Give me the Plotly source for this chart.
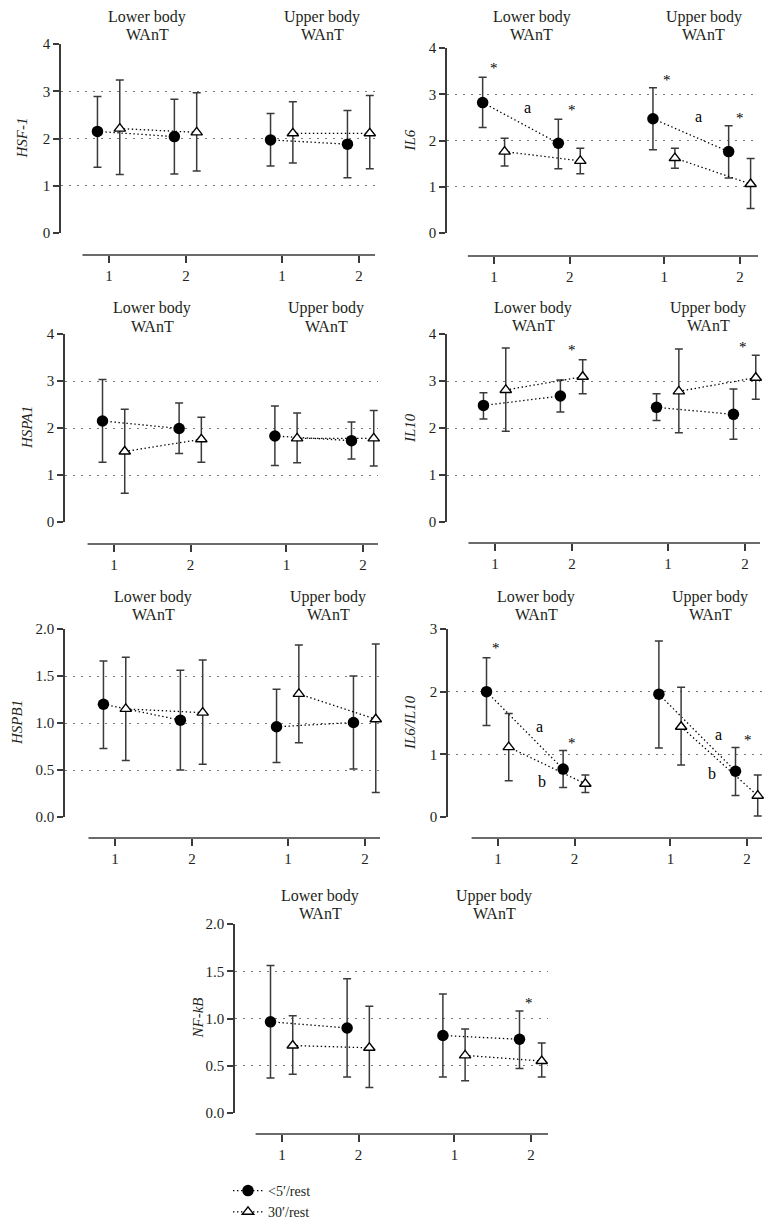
import plotly.graph_objects as go

# page body has an 8px margin: figure is sized to fit the window exactly
OFF = 8
W, H = 773 - 2 * OFF, 1229 - 2 * OFF
FONT = "Liberation Serif"
INK = "#231f20"
AX = "#3a3a3a"

# ---------------- data ----------------
series_names = ["&lt;5′/rest", "30′/rest"]
group_titles = ["Lower body", "Upper body"]
x_ticks = [1, 2, 3.25, 4.25]
x_ticktext = ["1", "2", "1", "2"]

# order of values: lower body 1, lower body 2, upper body 1, upper body 2
hsf1_rest5 = [2.15, 2.04, 1.97, 1.88]
hsf1_rest5_hi = [2.89, 2.83, 2.53, 2.59]
hsf1_rest5_lo = [1.39, 1.25, 1.42, 1.17]
hsf1_rest30 = [2.21, 2.13, 2.11, 2.11]
hsf1_rest30_hi = [3.24, 2.97, 2.78, 2.91]
hsf1_rest30_lo = [1.24, 1.31, 1.48, 1.36]

il6_rest5 = [2.82, 1.94, 2.47, 1.76]
il6_rest5_hi = [3.37, 2.46, 3.14, 2.32]
il6_rest5_lo = [2.28, 1.39, 1.80, 1.19]
il6_rest30 = [1.76, 1.56, 1.62, 1.06]
il6_rest30_hi = [2.05, 1.83, 1.83, 1.61]
il6_rest30_lo = [1.45, 1.28, 1.40, 0.53]

hspa1_rest5 = [2.15, 1.99, 1.83, 1.73]
hspa1_rest5_hi = [3.03, 2.53, 2.47, 2.13]
hspa1_rest5_lo = [1.27, 1.46, 1.20, 1.34]
hspa1_rest30 = [1.50, 1.76, 1.78, 1.78]
hspa1_rest30_hi = [2.40, 2.23, 2.32, 2.37]
hspa1_rest30_lo = [0.61, 1.27, 1.26, 1.19]

il10_rest5 = [2.48, 2.68, 2.44, 2.29]
il10_rest5_hi = [2.75, 3.02, 2.73, 2.83]
il10_rest5_lo = [2.19, 2.34, 2.16, 1.76]
il10_rest30 = [2.81, 3.09, 2.78, 3.07]
il10_rest30_hi = [3.70, 3.45, 3.68, 3.55]
il10_rest30_lo = [1.93, 2.73, 1.90, 2.61]

hspb1_rest5 = [1.20, 1.03, 0.96, 1.005]
hspb1_rest5_hi = [1.66, 1.56, 1.36, 1.50]
hspb1_rest5_lo = [0.73, 0.50, 0.58, 0.51]
hspb1_rest30 = [1.15, 1.11, 1.31, 1.04]
hspb1_rest30_hi = [1.70, 1.67, 1.83, 1.84]
hspb1_rest30_lo = [0.60, 0.56, 0.79, 0.26]

ratio_rest5 = [2.00, 0.765, 1.96, 0.73]
ratio_rest5_hi = [2.54, 1.06, 2.81, 1.11]
ratio_rest5_lo = [1.46, 0.47, 1.10, 0.345]
ratio_rest30 = [1.115, 0.53, 1.44, 0.34]
ratio_rest30_hi = [1.65, 0.67, 2.07, 0.67]
ratio_rest30_lo = [0.58, 0.39, 0.83, 0.016]

nfkb_rest5 = [0.965, 0.90, 0.82, 0.78]
nfkb_rest5_hi = [1.56, 1.42, 1.26, 1.08]
nfkb_rest5_lo = [0.37, 0.38, 0.38, 0.47]
nfkb_rest30 = [0.714, 0.69, 0.61, 0.55]
nfkb_rest30_hi = [1.03, 1.13, 0.89, 0.74]
nfkb_rest30_lo = [0.41, 0.27, 0.34, 0.38]

panel_titles = ["HSF-1", "IL6", "HSPA1", "IL10", "HSPB1", "IL6/IL10", "NF-kB"]
y_tick_vals = [
    [0, 1, 2, 3, 4], [0, 1, 2, 3, 4], [0, 1, 2, 3, 4], [0, 1, 2, 3, 4],
    [0, 0.5, 1.0, 1.5, 2.0], [0, 1, 2, 3], [0, 0.5, 1.0, 1.5, 2.0],
]
y_tick_text = [
    ["0", "1", "2", "3", "4"], ["0", "1", "2", "3", "4"],
    ["0", "1", "2", "3", "4"], ["0", "1", "2", "3", "4"],
    ["0.0", "0.5", "1.0", "1.5", "2.0"], ["0", "1", "2", "3"],
    ["0.0", "0.5", "1.0", "1.5", "2.0"],
]
panel_data = [
    [(hsf1_rest5, hsf1_rest5_hi, hsf1_rest5_lo), (hsf1_rest30, hsf1_rest30_hi, hsf1_rest30_lo)],
    [(il6_rest5, il6_rest5_hi, il6_rest5_lo), (il6_rest30, il6_rest30_hi, il6_rest30_lo)],
    [(hspa1_rest5, hspa1_rest5_hi, hspa1_rest5_lo), (hspa1_rest30, hspa1_rest30_hi, hspa1_rest30_lo)],
    [(il10_rest5, il10_rest5_hi, il10_rest5_lo), (il10_rest30, il10_rest30_hi, il10_rest30_lo)],
    [(hspb1_rest5, hspb1_rest5_hi, hspb1_rest5_lo), (hspb1_rest30, hspb1_rest30_hi, hspb1_rest30_lo)],
    [(ratio_rest5, ratio_rest5_hi, ratio_rest5_lo), (ratio_rest30, ratio_rest30_hi, ratio_rest30_lo)],
    [(nfkb_rest5, nfkb_rest5_hi, nfkb_rest5_lo), (nfkb_rest30, nfkb_rest30_hi, nfkb_rest30_lo)],
]

# significance marks: (panel index, x, y, text)
marks = [
    (1, 1.0, 3.56, "*"), (1, 1.44, 2.72, "a"), (1, 2.03, 2.66, "*"),
    (1, 3.29, 3.31, "*"), (1, 3.70, 2.51, "a"), (1, 4.25, 2.49, "*"),
    (3, 2.0, 3.66, "*"), (3, 4.22, 3.72, "*"),
    (5, 0.97, 2.70, "*"), (5, 1.54, 1.44, "a"), (5, 1.57, 0.57, "b"), (5, 1.97, 1.18, "*"),
    (5, 3.88, 1.32, "a"), (5, 3.79, 0.69, "b"), (5, 4.26, 1.23, "*"),
    (6, 4.23, 1.16, "*"),
]

# ---------------- layout geometry (window pixels) ----------------
# L: y-axis line, R: right end, T: top gridline, Z: y=0, B: x-axis line, t1/t4: first/last x tick
geom = [
    dict(L=61, R=375, T=44, Z=233, B=255, t1=109, t4=359, tx=22, gt=(17, 34)),
    dict(L=447, R=758, T=48, Z=233, B=256, t1=494, t4=740, tx=410, gt=(17, 34)),
    dict(L=65, R=378, T=334, Z=522, B=544, t1=114, t4=363, tx=27, gt=(308, 326)),
    dict(L=447, R=760, T=334, Z=522, B=543, t1=495, t4=745, tx=410, gt=(308, 325)),
    dict(L=65, R=380, T=629, Z=817, B=838, t1=115, t4=365, tx=17, gt=(597, 615)),
    dict(L=448, R=762, T=629, Z=817, B=838, t1=498, t4=747, tx=410, gt=(597, 615)),
    dict(L=235, R=548, T=924, Z=1113, B=1134, t1=282, t4=531, tx=197, gt=(896, 913)),
]


def px(p):
    return (p - OFF) / W


def py(p):
    return 1 - (p - OFF) / H


offsets = [-0.15, 0.14]
fig = go.Figure()
layout = dict(
    width=W, height=H, margin=dict(l=0, r=0, t=0, b=0, autoexpand=False),
    paper_bgcolor="white", plot_bgcolor="white",
    font=dict(family=FONT, size=15, color=INK),
    showlegend=True,
    legend=dict(x=px(228), y=py(1175), xanchor="left", yanchor="top",
                font=dict(size=14, family=FONT, color=INK), bgcolor="rgba(0,0,0,0)",
                tracegroupgap=0, itemwidth=30),
)
shapes, annotations = [], []

for i, g in enumerate(geom):
    n = i + 1
    xs = "" if n == 1 else str(n)
    ymax = y_tick_vals[i][-1]
    sp = (g["t4"] - g["t1"]) / (x_ticks[-1] - x_ticks[0])
    xr = [1 - (g["t1"] - g["L"]) / sp, 1 + (g["R"] - g["t1"]) / sp]

    layout["xaxis" + xs] = dict(
        domain=[px(g["L"]), px(g["R"])], range=xr, anchor="free", position=py(g["B"]),
        tickvals=x_ticks, ticktext=x_ticktext, ticks="outside", ticklen=7, tickwidth=1.5,
        tickcolor=AX, showline=False, showgrid=False, zeroline=False,
        tickfont=dict(size=15, family=FONT, color=INK), fixedrange=True,
    )
    layout["yaxis" + xs] = dict(
        domain=[py(g["Z"]), py(g["T"])], range=[0, ymax], anchor="x" + xs,
        tickvals=y_tick_vals[i], ticktext=y_tick_text[i], ticks="outside", ticklen=6,
        tickwidth=1.5, tickcolor=AX, showline=True, linecolor=AX, linewidth=1.5,
        showgrid=True, gridcolor="#7a7a7a", gridwidth=1.3, griddash="2px,6px", zeroline=False,
        tickfont=dict(size=15, family=FONT, color=INK), fixedrange=True,
    )
    # x axis line (offset below the plot)
    x_start = 0.655
    shapes.append(dict(
        type="line", xref="x" + xs + " domain", yref="paper",
        x0=(x_start - xr[0]) / (xr[1] - xr[0]), x1=1, y0=py(g["B"]), y1=py(g["B"]),
        line=dict(color=AX, width=1.5),
    ))
    # y title
    annotations.append(dict(
        text="<i>" + panel_titles[i] + "</i>", xref="paper", yref="y" + xs + " domain",
        x=px(g["tx"]), y=0.5, textangle=-90, showarrow=False,
        font=dict(size=15, family=FONT, color=INK), xanchor="center", yanchor="middle",
    ))
    # group titles
    for gx, title in zip([1.5, 3.77], group_titles):
        for line_txt, yp in zip([title, "WAnT"], g["gt"]):
            annotations.append(dict(
                text=line_txt, xref="x" + xs, yref="paper", x=gx, y=py(yp),
                showarrow=False, xanchor="center", yanchor="middle",
                font=dict(size=16, family=FONT, color=INK),
            ))

    for s, (mean, hi, lo) in enumerate(panel_data[i]):
        for grp in range(2):
            idx = [2 * grp, 2 * grp + 1]
            xv = [x_ticks[k] + offsets[s] for k in idx]
            m = [mean[k] for k in idx]
            ep = [hi[k] - mean[k] for k in idx]
            em = [mean[k] - lo[k] for k in idx]
            if s == 0:
                marker = dict(symbol="circle", size=11.5, color="black",
                              line=dict(color="black", width=0))
            else:
                marker = dict(symbol="triangle-up", size=10, color="white",
                              line=dict(color="black", width=1.4))
            fig.add_trace(go.Scatter(
                x=xv, y=m, mode="lines+markers", xaxis="x" + xs, yaxis="y" + xs,
                line=dict(color="black", width=1.3, dash="1.4px,2.6px"), marker=marker,
                error_y=dict(type="data", symmetric=False, array=ep, arrayminus=em,
                             color=AX, thickness=1.5, width=4),
                name=series_names[s], legendgroup=series_names[s],
                showlegend=(i == 0 and grp == 0), cliponaxis=False, hoverinfo="skip",
            ))

for (pi, x, y, t) in marks:
    xs = "" if pi == 0 else str(pi + 1)
    annotations.append(dict(
        text=t, xref="x" + xs, yref="y" + xs, x=x, y=y, showarrow=False,
        xanchor="center", yanchor="middle",
        font=dict(size=16 if t != "*" else 15, family=FONT, color="black"),
    ))

layout["shapes"] = shapes
layout["annotations"] = annotations
fig.update_layout(**layout)
fig.write_html("out.html")
